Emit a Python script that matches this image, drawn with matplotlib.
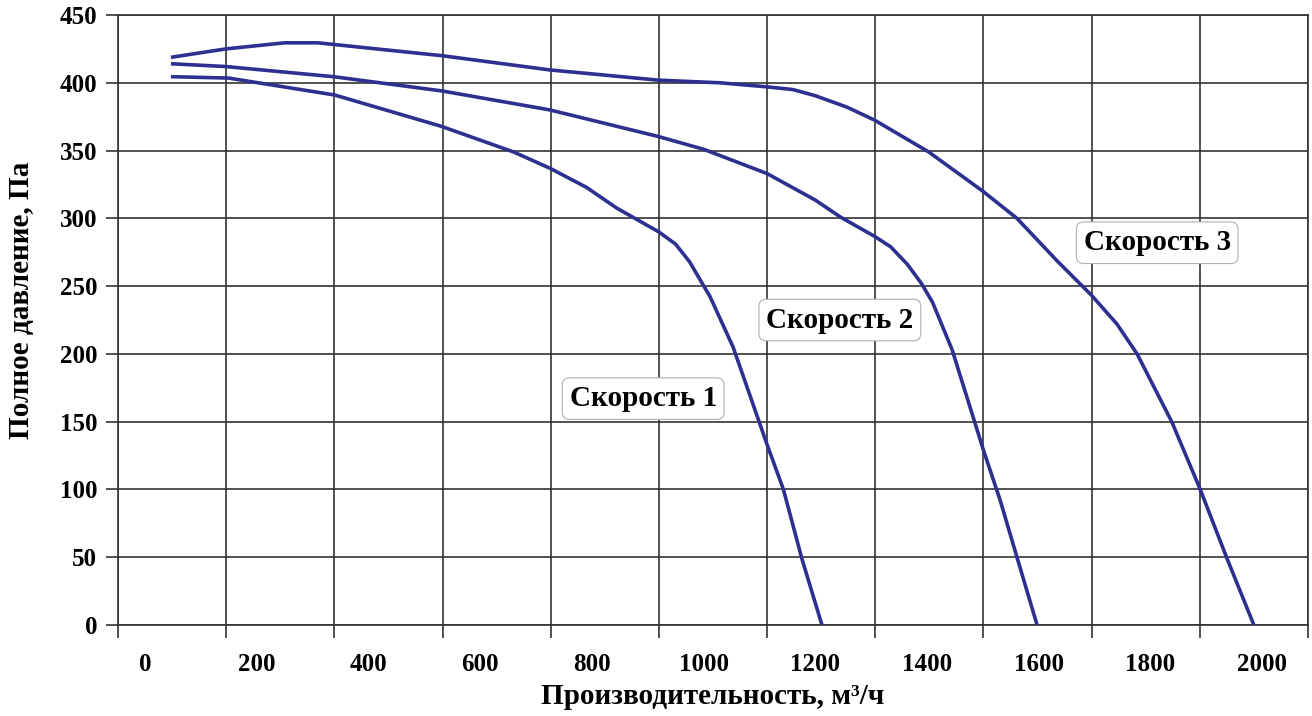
import numpy as np
import matplotlib
matplotlib.use("Agg")
import matplotlib.pyplot as plt

plt.rcParams['font.family'] = ['Liberation Serif', 'DejaVu Serif']
plt.rcParams['font.weight'] = 'bold'

# Скорость 1
x1 = [50, 150, 340, 530, 660, 725, 790, 845, 920, 950, 975, 1012, 1053, 1113, 1143, 1176, 1212]
y1 = [404.5, 403.5, 391, 368, 349, 337, 323, 307.5, 290, 281, 268, 242, 205, 134, 100, 49, 0]

# Скорость 2
x2 = [50, 145, 338, 532, 725, 918, 1000, 1114, 1200, 1245, 1307, 1335, 1365, 1390, 1410, 1445, 1501,
      1531, 1561, 1597]
y2 = [414, 412, 404.5, 394, 380, 360.5, 351, 333, 313.5, 301, 286.5, 279, 266, 252, 238, 203, 129,
      92, 50, 0]

# Скорость 3
x3 = [50, 145, 250, 310, 532, 725, 918, 1030, 1114, 1160, 1200, 1257, 1306, 1403, 1500, 1561, 1632,
      1695, 1740, 1776, 1838, 1889, 1937, 1985]
y3 = [419, 425, 429.5, 429.5, 420, 409.5, 402, 400, 397, 395, 390.5, 382, 372.5, 349, 320, 300, 269,
      243, 222, 200, 150, 100, 49, 0]

series = [(x1, y1), (x2, y2), (x3, y3)]
labels = ['Скорость 1', 'Скорость 2', 'Скорость 3']
label_pos = [(892, 167), (1244, 225), (1812, 282)]

x_ticks = list(range(0, 2001, 200))
y_ticks = list(range(0, 451, 50))

line_color = '#2d308f'
grid_color = '#333333'

fig = plt.figure(figsize=(13.12, 7.16), dpi=100)
ax = fig.add_axes([0.0899, 0.1271, 0.9071, 0.8519])

for xs, ys in series:
    ax.plot(xs, ys, color=line_color, lw=2.6, solid_joinstyle='round', zorder=3)

for (lx, ly), txt in zip(label_pos, labels):
    ax.text(lx, ly, txt, fontsize=21, fontweight='bold', ha='center', va='center', zorder=4,
            bbox=dict(boxstyle='round,pad=0.25,rounding_size=0.25', fc='white', ec='#b0b0b0', lw=0.8))

xmin, xmax = -48, 2082
ax.set_xlim(xmin, xmax)
ax.set_ylim(0, 450)

# vertical grid lines are spaced independently of the labels, like in the original
ax.set_xticks(np.linspace(xmin, xmax, 12), minor=True)
ax.set_xticks(x_ticks)
ax.set_xticklabels([str(v) for v in x_ticks])
ax.set_yticks(y_ticks)

ax.tick_params(axis='x', which='major', length=0, pad=20, labelsize=18)
ax.tick_params(axis='x', which='minor', length=9, width=1.2, color=grid_color, direction='out')
ax.tick_params(axis='y', which='major', length=9, width=1.2, color=grid_color, pad=6, labelsize=18)

ax.grid(True, axis='x', which='minor', color=grid_color, lw=1.2)
ax.grid(True, axis='y', which='major', color=grid_color, lw=1.2)
ax.grid(False, axis='x', which='major')

for s in ax.spines.values():
    s.set_color(grid_color)
    s.set_linewidth(1.2)

ax.set_xlabel('Производительность, м³/ч', fontsize=21, fontweight='bold', labelpad=5)
ax.set_ylabel('Полное давление, Па', fontsize=21, fontweight='bold')
ax.yaxis.set_label_coords(-0.07, 0.533)

fig.savefig('out.png', dpi=100)
